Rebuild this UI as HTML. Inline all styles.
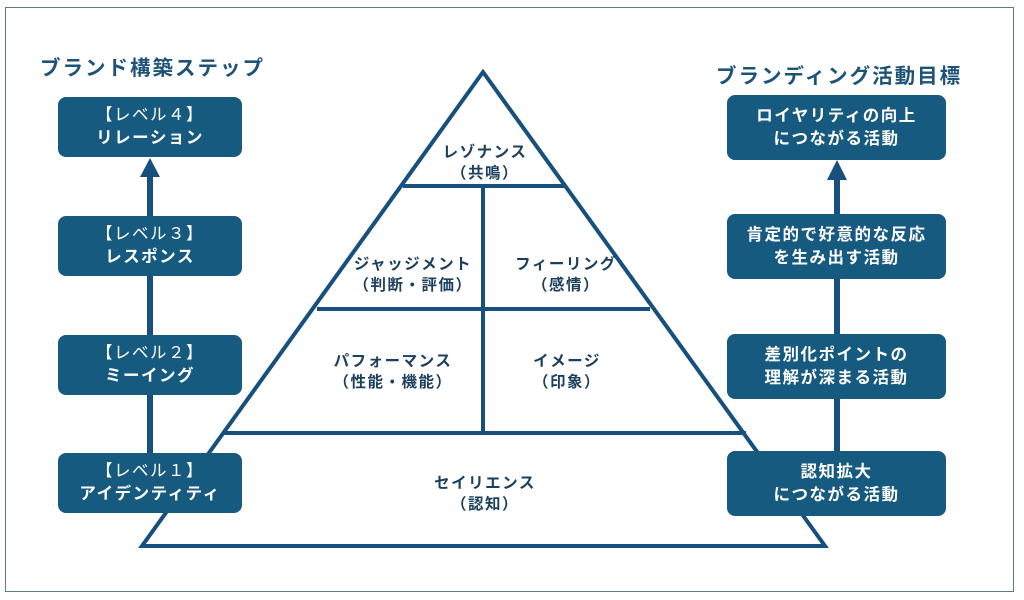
<!DOCTYPE html>
<html><head><meta charset="utf-8"><style>
body{margin:0;width:1024px;height:600px;background:#fff;overflow:hidden;font-family:"Liberation Sans","Noto Sans CJK JP",sans-serif}
.frame{position:absolute;left:5px;top:7px;width:1009px;height:585px;border:1px solid #5b7a8e;box-sizing:border-box}
.t{position:absolute;font-weight:bold;color:#1d5379;font-size:20.5px;letter-spacing:2px}
.b{position:absolute;background:#175a80;border-radius:8px;color:#fff;font-weight:bold;font-size:16.5px;line-height:23px;text-align:center;display:flex;align-items:center;justify-content:center;letter-spacing:1.5px}
.b span{font-weight:normal}
.p{position:absolute;color:#1d3f5e;font-size:15.5px;font-weight:bold;line-height:21px;text-align:center;transform:translateX(-50%);white-space:nowrap;letter-spacing:1.5px}
</style></head><body>
<div class="frame"></div>
<svg style="position:absolute;left:0;top:0" width="1024" height="600">
<g stroke="#174f7e" stroke-width="4" fill="none">
<polygon points="483,72 825,546 142,546"/>
<line x1="403" y1="186" x2="564" y2="186"/>
<line x1="317" y1="309" x2="650" y2="309"/>
<line x1="222" y1="433" x2="746" y2="433"/>
<line x1="483" y1="186" x2="483" y2="433"/>
</g>
<g stroke="#174f7e" stroke-width="6"><line x1="150" y1="453" x2="150" y2="175"/><line x1="837" y1="451" x2="837" y2="178"/></g>
<g fill="#174f7e"><polygon points="150,158 140,177 160,177"/><polygon points="837,160 827,180 847,180"/></g>
</svg>
<div class="t" style="left:40px;top:51px">ブランド構築ステップ</div>
<div class="t" style="left:716px;top:59px">ブランディング活動目標</div>
<div class="b" style="left:58px;top:97px;width:184px;height:60px"><div><span>【レベル４】</span><br>リレーション</div></div>
<div class="b" style="left:58px;top:216px;width:184px;height:60px"><div><span>【レベル３】</span><br>レスポンス</div></div>
<div class="b" style="left:58px;top:335px;width:184px;height:60px"><div><span>【レベル２】</span><br>ミーイング</div></div>
<div class="b" style="left:58px;top:453px;width:184px;height:60px"><div><span>【レベル１】</span><br>アイデンティティ</div></div>
<div class="b" style="left:727px;top:95px;width:219px;height:65px"><div>ロイヤリティの向上<br>につながる活動</div></div>
<div class="b" style="left:727px;top:214px;width:219px;height:65px"><div>肯定的で好意的な反応<br>を生み出す活動</div></div>
<div class="b" style="left:727px;top:334px;width:219px;height:65px"><div>差別化ポイントの<br>理解が深まる活動</div></div>
<div class="b" style="left:727px;top:451px;width:219px;height:65px"><div>認知拡大<br>につながる活動</div></div>
<div class="p" style="left:485px;top:142px">レゾナンス<br>（共鳴）</div>
<div class="p" style="left:413px;top:254px">ジャッジメント<br>（判断・評価）</div>
<div class="p" style="left:566px;top:254px">フィーリング<br>（感情）</div>
<div class="p" style="left:393px;top:351px">パフォーマンス<br>（性能・機能）</div>
<div class="p" style="left:567px;top:351px">イメージ<br>（印象）</div>
<div class="p" style="left:485px;top:473px">セイリエンス<br>（認知）</div>
</body></html>
